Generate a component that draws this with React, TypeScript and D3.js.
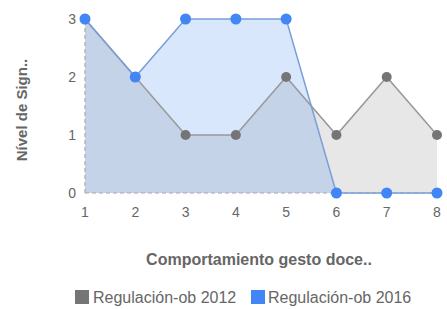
import React from "react";
import * as d3 from "d3";

const categories = [1, 2, 3, 4, 5, 6, 7, 8];
const series2012 = [3, 2, 1, 1, 2, 1, 2, 1];
const series2016 = [3, 2, 3, 3, 3, 0, 0, 0];
const yTicks = [0, 1, 2, 3];
const seriesNames = ["Regulación-ob 2012", "Regulación-ob 2016"];
const xTitle = "Comportamiento gesto doce..";
const yTitle = "Nível de Sign..";

export default function App() {
  const W = 447, H = 309;
  const x = d3.scaleLinear().domain([1, 8]).range([85, 437]);
  const y = d3.scaleLinear().domain([0, 3]).range([193, 19]);
  const line = d3.line<number>().x((_, i) => x(categories[i])).y((d) => y(d));
  const area = d3.area<number>().x((_, i) => x(categories[i])).y0(y(0)).y1((d) => y(d));
  const font = "'Liberation Sans', Arial, sans-serif";
  const gray = "#757575";
  const blue = "#4285f4";
  return (
    <svg width={W} height={H} style={{ position: "absolute", left: 0, top: 0 }} fontFamily={font}>
      <rect width={W} height={H} fill="#fff" />
      <path d={area(series2012)!} fill="#9e9e9e" fillOpacity={0.25} />
      <path d={area(series2016)!} fill={blue} fillOpacity={0.2} />
      <line x1={x(1)} x2={x(1)} y1={y(0)} y2={y(3)} stroke="#aaa" strokeDasharray="4,3" strokeWidth={1.2} />
      <line x1={x(1)} x2={x(8)} y1={y(0)} y2={y(0)} stroke="#aaa" strokeDasharray="4,3" strokeWidth={1.2} />
      <path d={line(series2012)!} fill="none" stroke="#999" strokeWidth={1.5} />
      <path d={line(series2016)!} fill="none" stroke="#7a9fd6" strokeWidth={1.5} />
      {series2012.map((d, i) => (
        <circle key={"g" + i} cx={x(categories[i])} cy={y(d)} r={5} fill={gray} />
      ))}
      {series2016.map((d, i) => (
        <circle key={"b" + i} cx={x(categories[i])} cy={y(d)} r={5.5} fill={blue} />
      ))}
      {yTicks.map((t) => (
        <text key={t} x={76} y={y(t) + 5} textAnchor="end" fontSize={14} fill="#666">{t}</text>
      ))}
      {categories.map((c) => (
        <text key={c} x={x(c)} y={217} textAnchor="middle" fontSize={14} fill="#666">{c}</text>
      ))}
      <text x={259} y={265} textAnchor="middle" fontSize={16} fontWeight="bold" fill="#666">{xTitle}</text>
      <text transform={`translate(27,110) rotate(-90)`} textAnchor="middle" fontSize={15} fontWeight="bold" fill="#666">{yTitle}</text>
      <rect x={75} y={290} width={14} height={14} fill={gray} />
      <text x={93} y={303} fontSize={16} fill="#666">{seriesNames[0]}</text>
      <rect x={251} y={290} width={14} height={14} fill={blue} />
      <text x={268} y={303} fontSize={16} fill="#666">{seriesNames[1]}</text>
    </svg>
  );
}
